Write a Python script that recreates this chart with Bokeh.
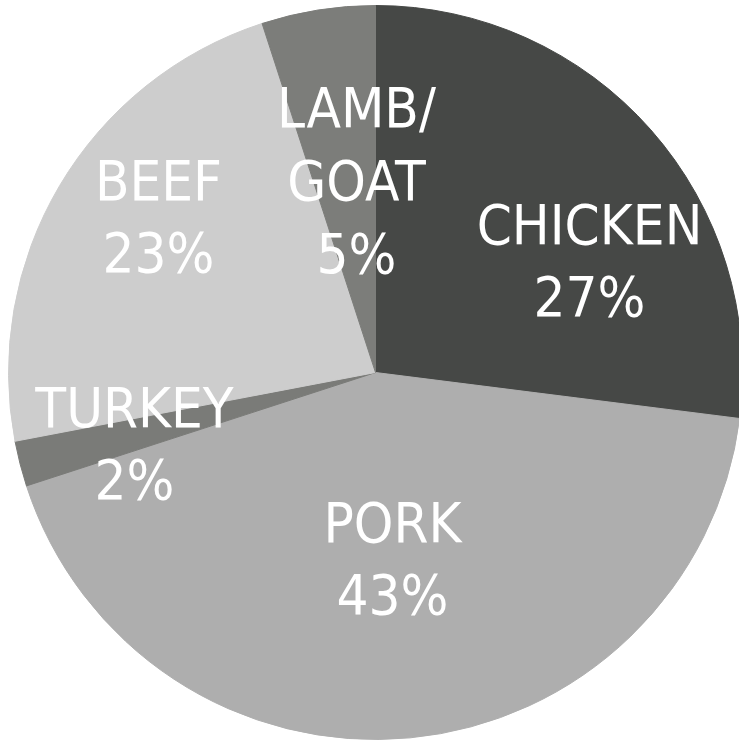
import numpy as np
from bokeh.plotting import figure
from bokeh.models import ColumnDataSource, Range1d
from bokeh.core.properties import value
from bokeh.embed import file_html
from bokeh.resources import INLINE

# ---- data ----
categories = ["CHICKEN", "PORK", "TURKEY", "BEEF", "LAMB/\nGOAT"]
shares = [27, 43, 2, 23, 5]
colors = ["#464846", "#aeaeae", "#7a7b78", "#cdcdcd", "#7c7d7a"]

# ---- layout (pixel positions of label centres, top-left origin) ----
label_px = [(589, 260), (392, 558), (134, 443), (158, 216), (356, 180)]

W, H = 739, 743
cx, cy, r = 375, H - 372, 367

total = float(sum(shares))
frac = np.array(shares) / total
ends = np.cumsum(frac) * 2 * np.pi
starts = ends - frac * 2 * np.pi
# clockwise from 12 o'clock
start_angle = np.pi / 2 - starts
end_angle = np.pi / 2 - ends

labels = [f"{c}\n{s}%" for c, s in zip(categories, shares)]

src = ColumnDataSource(dict(
    start=start_angle, end=end_angle, color=colors,
    lx=[p[0] for p in label_px], ly=[H - p[1] for p in label_px],
    label=labels,
))

p = figure(width=W, height=H, output_backend="svg", toolbar_location=None,
           x_range=Range1d(0, W), y_range=Range1d(0, H),
           min_border=0, outline_line_color=None, background_fill_color="white",
           border_fill_color="white")
p.axis.visible = False
p.grid.visible = False

p.wedge(x=cx, y=cy, radius=r, start_angle="start", end_angle="end",
        direction="clock", fill_color="color", line_color="color", line_width=1,
        source=src)

p.text(x="lx", y="ly", text="label", source=src,
       text_font=value("DejaVu Sans Condensed"),
       text_font_size="56px", text_color="white", text_align="center",
       text_baseline="middle", text_line_height=1.12)

open("out.html", "w").write(file_html(p, INLINE))
